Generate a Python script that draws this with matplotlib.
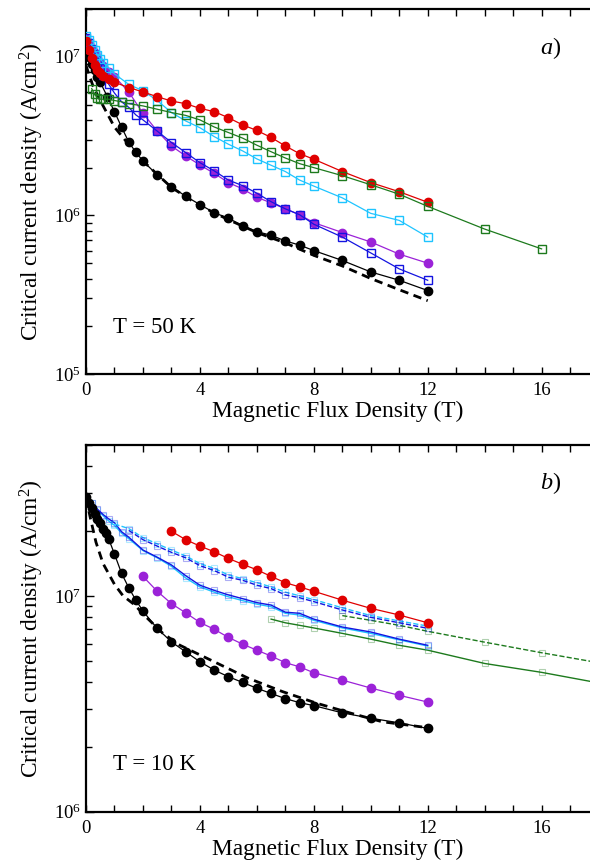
import numpy as np
import matplotlib
matplotlib.use("Agg")
import matplotlib.pyplot as plt
from matplotlib.ticker import MultipleLocator, LogLocator

# ---- panel a (T = 50 K) ----
a_black_x = [0, 0.1, 0.2, 0.3, 0.4, 0.5, 0.75, 1.0, 1.25, 1.5, 1.75, 2.0, 2.5, 3, 3.5, 4, 4.5, 5,
             5.5, 6, 6.5, 7, 7.5, 8, 9, 10, 11, 12]
a_black_y = [1.15e7, 1.0e7, 9.0e6, 8.2e6, 7.5e6, 6.9e6, 5.6e6, 4.5e6, 3.6e6, 2.9e6, 2.5e6, 2.2e6,
             1.8e6, 1.52e6, 1.32e6, 1.17e6, 1.04e6, 9.6e5, 8.6e5, 7.9e5, 7.5e5, 6.9e5, 6.5e5,
             6.0e5, 5.2e5, 4.4e5, 3.9e5, 3.36e5]
a_dash_x = [0, 0.25, 0.5, 1, 1.5, 2, 3, 4, 5, 6, 7, 8, 9, 10, 11, 12]
a_dash_y = [8.8e6, 6.5e6, 5.3e6, 3.6e6, 2.8e6, 2.2e6, 1.5e6, 1.15e6, 9.4e5, 7.8e5, 6.7e5, 5.6e5,
            4.8e5, 4.0e5, 3.4e5, 2.9e5]
a_purple_x = [0, 0.1, 0.2, 0.3, 0.4, 0.5, 0.6, 0.8, 1.0, 1.5, 2, 2.5, 3, 3.5, 4, 4.5, 5, 5.5, 6,
              6.5, 7, 7.5, 8, 9, 10, 11, 12]
a_purple_y = [1.3e7, 1.2e7, 1.12e7, 1.05e7, 9.8e6, 9.2e6, 8.7e6, 8.0e6, 7.5e6, 6.0e6, 4.4e6, 3.4e6,
              2.74e6, 2.37e6, 2.08e6, 1.84e6, 1.61e6, 1.47e6, 1.30e6, 1.20e6, 1.10e6, 1.01e6,
              9.0e5, 7.8e5, 6.8e5, 5.7e5, 5.0e5]
a_blue_x = [0, 0.1, 0.2, 0.3, 0.4, 0.5, 0.6, 0.8, 1.0, 1.25, 1.5, 1.75, 2.0, 2.5, 3, 3.5, 4, 4.5,
            5, 5.5, 6, 6.5, 7, 7.5, 8, 9, 10, 11, 12]
a_blue_y = [1.32e7, 1.22e7, 1.12e7, 1.03e7, 9.3e6, 8.5e6, 7.7e6, 6.7e6, 5.9e6, 5.2e6, 4.8e6, 4.3e6,
            4.0e6, 3.4e6, 2.88e6, 2.49e6, 2.15e6, 1.91e6, 1.67e6, 1.54e6, 1.38e6, 1.22e6,
            1.10e6, 1.01e6, 8.8e5, 7.3e5, 5.8e5, 4.6e5, 3.9e5]
a_cyan_x = [0, 0.1, 0.2, 0.3, 0.4, 0.5, 0.6, 0.8, 1.0, 1.5, 2, 2.5, 3, 3.5, 4, 4.5, 5, 5.5, 6,
            6.5, 7, 7.5, 8, 9, 10, 11, 12]
a_cyan_y = [1.35e7, 1.27e7, 1.18e7, 1.1e7, 1.03e7, 9.7e6, 9.2e6, 8.5e6, 7.8e6, 6.7e6, 6.1e6, 5.3e6,
            4.45e6, 3.94e6, 3.57e6, 3.14e6, 2.81e6, 2.55e6, 2.27e6, 2.07e6, 1.89e6, 1.67e6,
            1.53e6, 1.29e6, 1.03e6, 9.3e5, 7.3e5]
a_green_x = [0.2, 0.3, 0.4, 0.5, 0.6, 0.8, 1.0, 1.25, 1.5, 2, 2.5, 3, 3.5, 4, 4.5, 5, 5.5, 6,
             6.5, 7, 7.5, 8, 9, 10, 11, 12, 14, 16]
a_green_y = [6.3e6, 5.8e6, 5.5e6, 5.4e6, 5.4e6, 5.4e6, 5.3e6, 5.2e6, 5.06e6, 4.9e6, 4.67e6, 4.45e6,
             4.27e6, 4.0e6, 3.61e6, 3.33e6, 3.07e6, 2.77e6, 2.52e6, 2.3e6, 2.12e6, 2.0e6,
             1.78e6, 1.56e6, 1.36e6, 1.14e6, 8.2e5, 6.15e5]
a_red_x = [0, 0.1, 0.2, 0.3, 0.4, 0.5, 0.6, 0.8, 1.0, 1.5, 2, 2.5, 3, 3.5, 4, 4.5, 5, 5.5, 6,
           6.5, 7, 7.5, 8, 9, 10, 11, 12]
a_red_y = [1.25e7, 1.1e7, 9.8e6, 8.9e6, 8.3e6, 7.9e6, 7.6e6, 7.2e6, 6.9e6, 6.4e6, 6.0e6, 5.6e6,
           5.26e6, 5.06e6, 4.73e6, 4.51e6, 4.13e6, 3.72e6, 3.43e6, 3.1e6, 2.74e6, 2.45e6,
           2.26e6, 1.89e6, 1.61e6, 1.41e6, 1.21e6]

# ---- panel b (T = 10 K) ----
b_black_x = [0, 0.1, 0.2, 0.3, 0.4, 0.5, 0.6, 0.7, 0.8, 1.0, 1.25, 1.5, 1.75, 2.0, 2.5, 3, 3.5,
             4, 4.5, 5, 5.5, 6, 6.5, 7, 7.5, 8, 9, 10, 11, 12]
b_black_y = [2.87e7, 2.7e7, 2.55e7, 2.4e7, 2.28e7, 2.17e7, 2.05e7, 1.95e7, 1.83e7, 1.56e7, 1.27e7,
             1.09e7, 9.55e6, 8.5e6, 7.06e6, 6.12e6, 5.5e6, 4.95e6, 4.53e6, 4.22e6, 3.97e6,
             3.73e6, 3.53e6, 3.34e6, 3.2e6, 3.1e6, 2.87e6, 2.71e6, 2.58e6, 2.43e6]
b_dash_x = [0, 0.15, 0.35, 0.6, 1.0, 1.3, 1.7, 2.1, 2.7, 3.3, 4.5, 5.7, 6.9, 8.1, 9.3, 10.4, 12]
b_dash_y = [2.85e7, 2.3e7, 1.77e7, 1.41e7, 1.13e7, 1.0e7, 9.1e6, 8.0e6, 6.7e6, 5.9e6, 4.95e6,
            4.15e6, 3.6e6, 3.18e6, 2.86e6, 2.61e6, 2.45e6]
b_purple_x = [2, 2.5, 3, 3.5, 4, 4.5, 5, 5.5, 6, 6.5, 7, 7.5, 8, 9, 10, 11, 12]
b_purple_y = [1.23e7, 1.05e7, 9.2e6, 8.34e6, 7.53e6, 7.0e6, 6.42e6, 5.97e6, 5.6e6, 5.26e6, 4.9e6,
              4.69e6, 4.4e6, 4.07e6, 3.74e6, 3.46e6, 3.22e6]
b_red_x = [3, 3.5, 4, 4.5, 5, 5.5, 6, 6.5, 7, 7.5, 8, 9, 10, 11, 12]
b_red_y = [1.99e7, 1.82e7, 1.70e7, 1.60e7, 1.49e7, 1.40e7, 1.32e7, 1.23e7, 1.15e7, 1.10e7, 1.05e7,
           9.55e6, 8.75e6, 8.15e6, 7.5e6]
b_solid_x = [0, 0.2, 0.4, 0.6, 0.8, 1.0, 1.25, 1.5, 2.0, 2.5, 3.0, 3.5, 4.0, 4.5, 5.0, 5.5, 6.0,
             6.5, 7.0, 7.5, 8.0, 9, 10, 11, 12]
b_blue_y = [2.87e7, 2.7e7, 2.52e7, 2.38e7, 2.27e7, 2.18e7, 1.98e7, 1.87e7, 1.63e7, 1.51e7, 1.39e7,
            1.24e7, 1.12e7, 1.06e7, 1.01e7, 9.7e6, 9.3e6, 9.06e6, 8.4e6, 8.3e6, 7.8e6, 7.17e6,
            6.8e6, 6.3e6, 5.9e6]
b_cyan_y = [2.87e7, 2.68e7, 2.5e7, 2.35e7, 2.22e7, 2.12e7, 1.95e7, 1.84e7, 1.62e7, 1.5e7, 1.37e7,
            1.21e7, 1.1e7, 1.04e7, 9.9e6, 9.5e6, 9.15e6, 8.9e6, 8.3e6, 8.15e6, 7.7e6, 7.1e6,
            6.7e6, 6.25e6, 5.85e6]
b_bdash_x = [1.5, 2.0, 2.5, 3.0, 3.5, 4.0, 4.5, 5.0, 5.5, 6.0, 6.5, 7.0, 7.5, 8.0, 9, 10, 11, 12]
b_bdash_y = [2.01e7, 1.82e7, 1.7e7, 1.59e7, 1.5e7, 1.38e7, 1.31e7, 1.22e7, 1.18e7, 1.12e7, 1.08e7,
             1.01e7, 9.8e6, 9.4e6, 8.6e6, 7.95e6, 7.5e6, 7.07e6]
b_cdash_x = [1.0, 1.5, 2.0, 2.5, 3.0, 3.5, 4.0, 4.5, 5.0, 5.5, 6.0, 6.5, 7.0, 7.5, 8.0, 9, 10, 11, 12]
b_cdash_y = [2.15e7, 2.05e7, 1.86e7, 1.74e7, 1.63e7, 1.53e7, 1.41e7, 1.34e7, 1.25e7, 1.2e7, 1.15e7,
             1.1e7, 1.04e7, 1.0e7, 9.6e6, 8.8e6, 8.1e6, 7.65e6, 7.24e6]
b_green_x = [6.5, 7, 7.5, 8, 9, 10, 11, 12, 14, 16, 18]
b_green_y = [7.8e6, 7.5e6, 7.3e6, 7.1e6, 6.7e6, 6.3e6, 5.9e6, 5.6e6, 4.86e6, 4.42e6, 3.95e6]
b_gdash_x = [9, 10, 11, 12, 14, 16, 18]
b_gdash_y = [8.1e6, 7.7e6, 7.3e6, 6.85e6, 6.1e6, 5.45e6, 4.9e6]

RED = "#e00000"
GREEN = "#1d7a1d"
CYAN = "#1ec4ff"
BLUE = "#1414e0"
PURPLE = "#9b22d8"

plt.rcParams["font.family"] = ["Liberation Serif", "DejaVu Serif"]
plt.rcParams["mathtext.fontset"] = "custom"
plt.rcParams["mathtext.rm"] = "Liberation Serif"
plt.rcParams["mathtext.it"] = "Liberation Serif:italic"
plt.rcParams["mathtext.default"] = "rm"


def style_axes(ax, ylo, yhi):
    ax.set_yscale("log")
    ax.set_xlim(0, 17.7)
    ax.set_ylim(ylo, yhi)
    ax.xaxis.set_major_locator(MultipleLocator(4))
    ax.xaxis.set_minor_locator(MultipleLocator(1))
    ax.yaxis.set_major_locator(LogLocator(base=10))
    ax.yaxis.set_minor_locator(LogLocator(base=10, subs=np.arange(2, 10)))
    ax.tick_params(axis="x", which="both", direction="in", top=True, length=5, width=1,
                   labelsize=13.5, pad=6)
    ax.tick_params(axis="y", which="major", direction="in", length=6, width=1,
                   labelsize=13.5, right=False)
    ax.tick_params(axis="y", which="minor", direction="in", length=4, width=1, right=False)
    ax.spines["right"].set_visible(False)
    for s in ["left", "bottom", "top"]:
        ax.spines[s].set_linewidth(1.6)
    ax.set_xlabel("Magnetic Flux Density (T)", fontsize=16.8, labelpad=1)
    ax.set_ylabel("Critical current density (A/cm$^2$)", fontsize=16.8, labelpad=6)


def circles(ax, x, y, color, zorder=3):
    ax.plot(x, y, "-", color=color, lw=0.9, marker="o", ms=6, mfc=color, mec=color, zorder=zorder)


def squares(ax, x, y, color, zorder=3):
    ax.plot(x, y, "-", color=color, lw=0.9, marker="s", ms=5.5, mfc="none", mec=color, mew=1,
            zorder=zorder)


def light_squares(ax, x, y, color, ls):
    ax.plot(x, y, ls, color=color, lw=1.0, zorder=2)
    rgba = matplotlib.colors.to_rgba(color, 0.35)
    ax.plot(x, y, "none", marker="s", ms=5, mfc="none", mec=rgba, mew=0.8, zorder=2)


fig = plt.figure(figsize=(5.9, 8.67), dpi=100)

# panel a
ax1 = fig.add_axes([0.1458, 0.5686, 0.8542, 0.4210])
style_axes(ax1, 1e5, 2e7)
ax1.plot(a_dash_x, a_dash_y, color="black", lw=2, dashes=(3, 2), zorder=2)
circles(ax1, a_black_x, a_black_y, "black")
circles(ax1, a_purple_x, a_purple_y, PURPLE)
squares(ax1, a_blue_x, a_blue_y, BLUE)
squares(ax1, a_cyan_x, a_cyan_y, CYAN)
circles(ax1, a_red_x, a_red_y, RED)
squares(ax1, a_green_x, a_green_y, GREEN, zorder=4)
ax1.text(0.921, 0.893, "$\\mathit{a}$)", transform=ax1.transAxes, fontsize=17.5,
         ha="center", va="center")
ax1.text(0.054, 0.128, "T = 50 K", transform=ax1.transAxes, fontsize=16.5,
         ha="left", va="center")

# panel b
ax2 = fig.add_axes([0.1458, 0.0638, 0.8542, 0.4230])
style_axes(ax2, 1e6, 5e7)
light_squares(ax2, b_green_x, b_green_y, GREEN, "-")
light_squares(ax2, b_gdash_x, b_gdash_y, GREEN, "--")
light_squares(ax2, b_solid_x, b_cyan_y, CYAN, "-")
light_squares(ax2, b_solid_x, b_blue_y, BLUE, "-")
light_squares(ax2, b_cdash_x, b_cdash_y, CYAN, "--")
light_squares(ax2, b_bdash_x, b_bdash_y, BLUE, "--")
ax2.plot(b_dash_x, b_dash_y, color="black", lw=2, dashes=(3, 2), zorder=2)
circles(ax2, b_black_x, b_black_y, "black")
circles(ax2, b_purple_x, b_purple_y, PURPLE)
circles(ax2, b_red_x, b_red_y, RED)
ax2.text(0.921, 0.896, "$\\mathit{b}$)", transform=ax2.transAxes, fontsize=17.5,
         ha="center", va="center")
ax2.text(0.054, 0.13, "T = 10 K", transform=ax2.transAxes, fontsize=16.5,
         ha="left", va="center")

fig.savefig("out.png", dpi=100)
